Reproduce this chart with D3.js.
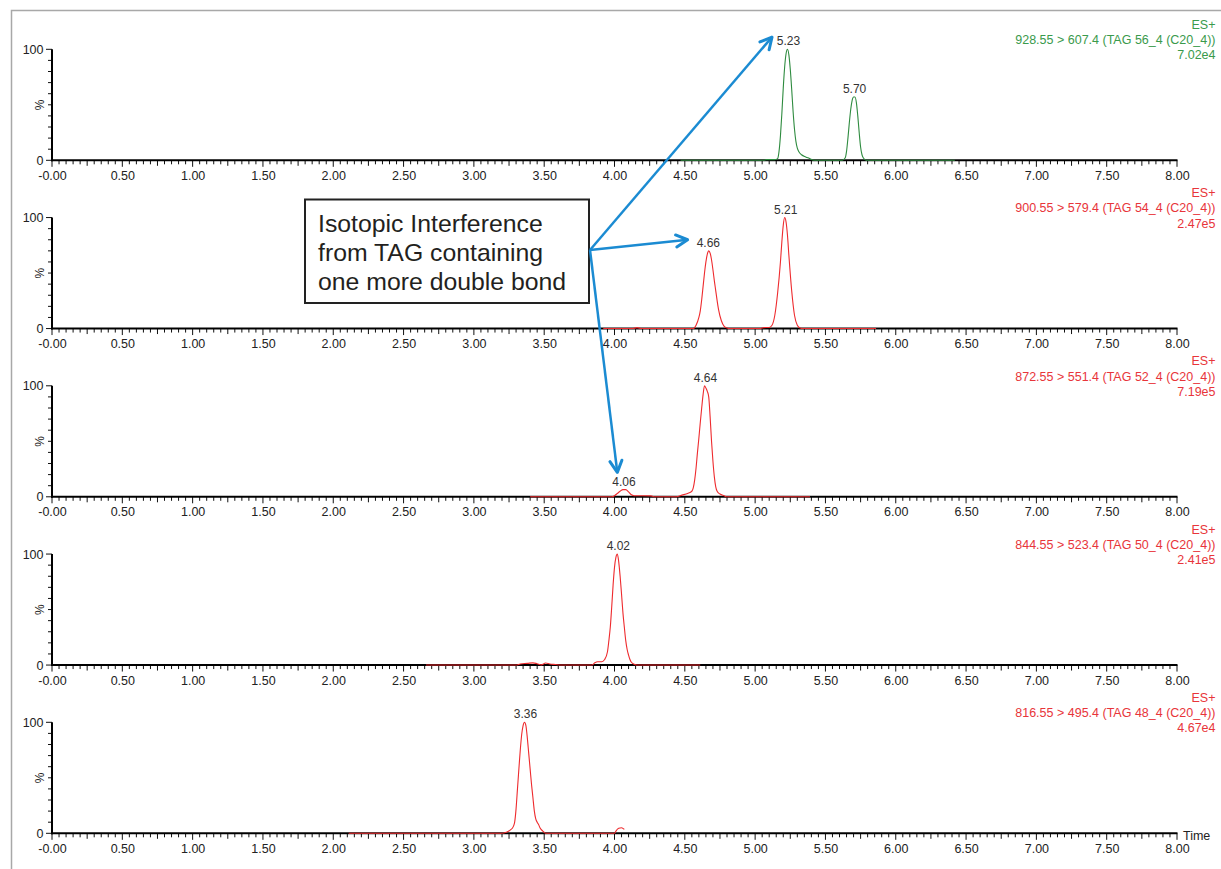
<!DOCTYPE html>
<html>
<head>
<meta charset="utf-8">
<script src="https://cdn.jsdelivr.net/npm/d3@7"></script>
<style>
  html, body { margin: 0; padding: 0; background: #fff; }
  svg { display: block; font-family: "Liberation Sans", Arial, sans-serif; }
</style>
</head>
<body>
<svg id="chart" width="1221" height="869"></svg>
<script>
// ---------------- DATA ----------------
const xTickValues = [0, 0.5, 1, 1.5, 2, 2.5, 3, 3.5, 4, 4.5, 5, 5.5, 6, 6.5, 7, 7.5, 8];
const xTickLabels = ["-0.00","0.50","1.00","1.50","2.00","2.50","3.00","3.50","4.00","4.50","5.00","5.50","6.00","6.50","7.00","7.50","8.00"];
const yTickLabels = ["0", "100"];

const channelNames = [
  "928.55 > 607.4 (TAG 56_4 (C20_4))",
  "900.55 > 579.4 (TAG 54_4 (C20_4))",
  "872.55 > 551.4 (TAG 52_4 (C20_4))",
  "844.55 > 523.4 (TAG 50_4 (C20_4))",
  "816.55 > 495.4 (TAG 48_4 (C20_4))"
];
const channelIntensity = ["7.02e4", "2.47e5", "7.19e5", "2.41e5", "4.67e4"];
const channelMode = ["ES+", "ES+", "ES+", "ES+", "ES+"];

// chromatogram traces: [time (min), relative intensity (%)]
const traceTAG56 = [[4.47,0],[5.06,0],[5.08,0.6],[5.14,0.6],[5.16,1.5],[5.17,8],[5.18,22],[5.19,42],[5.20,65],[5.21,84],[5.22,96],[5.23,100],[5.24,95],[5.25,82],[5.26,64],[5.27,44],[5.28,28],[5.29,17],[5.30,11],[5.31,8],[5.33,5],[5.36,3],[5.39,1.5],[5.41,0.3],[5.43,0],[5.62,0],[5.64,2],[5.65,8],[5.66,20],[5.67,34],[5.68,46],[5.69,54],[5.70,57],[5.71,57],[5.72,52],[5.73,40],[5.74,25],[5.75,12],[5.76,5],[5.77,2],[5.79,0],[6.42,0]];
const traceTAG54 = [[3.92,0],[4.13,0],[4.16,0.8],[4.19,0],[4.56,0],[4.58,3],[4.60,10],[4.61,16],[4.62,26],[4.63,38],[4.64,50],[4.65,60],[4.66,67],[4.67,70],[4.68,68],[4.69,62],[4.70,53],[4.71,43],[4.72,34],[4.73,25],[4.74,17],[4.76,7],[4.78,2],[4.80,0.5],[4.82,0],[5.04,0],[5.06,0.8],[5.10,1],[5.12,3],[5.14,12],[5.16,32],[5.18,60],[5.19,78],[5.20,93],[5.21,100],[5.22,96],[5.23,84],[5.24,66],[5.26,34],[5.28,12],[5.30,3],[5.32,0.5],[5.34,0],[5.86,0]];
const traceTAG52 = [[3.40,0],[3.98,0],[4.00,1],[4.02,3],[4.04,5],[4.06,6.5],[4.08,6.5],[4.10,4.5],[4.12,1.8],[4.14,1],[4.20,1],[4.26,0.8],[4.28,0],[4.44,0],[4.48,1.5],[4.52,3],[4.55,5],[4.56,8],[4.57,15],[4.58,26],[4.59,40],[4.60,53],[4.61,67],[4.62,80],[4.63,92],[4.64,100],[4.65,98],[4.66,95],[4.67,90],[4.68,72],[4.69,50],[4.70,32],[4.71,18],[4.72,9],[4.73,5],[4.75,2.5],[4.78,1],[4.80,0],[5.39,0]];
const traceTAG50 = [[2.66,0],[3.30,0],[3.33,1],[3.38,1.5],[3.42,2],[3.45,1.2],[3.48,0.2],[3.51,1.8],[3.54,1],[3.58,0.5],[3.62,0],[3.84,0],[3.86,2],[3.88,3],[3.91,3],[3.93,5],[3.95,12],[3.96,22],[3.97,34],[3.98,52],[3.99,72],[4.00,88],[4.01,97],[4.02,100],[4.03,93],[4.04,80],[4.05,64],[4.06,47],[4.07,34],[4.08,22],[4.09,14],[4.10,9],[4.11,5],[4.12,2.5],[4.14,0.8],[4.16,0],[4.61,0]];
const traceTAG48 = [[2.11,0],[3.20,0],[3.23,1],[3.26,3],[3.28,6],[3.29,10],[3.30,22],[3.31,40],[3.32,58],[3.33,75],[3.34,89],[3.35,97],[3.36,100],[3.37,97],[3.38,86],[3.39,72],[3.40,58],[3.41,44],[3.42,32],[3.43,20],[3.44,13],[3.45,10],[3.46,8],[3.47,5],[3.49,2],[3.51,0],[4.00,0],[4.01,2],[4.03,4.5],[4.05,5],[4.07,3.5]];
const traces = [traceTAG56, traceTAG54, traceTAG52, traceTAG50, traceTAG48];

// labelled peaks: [retention time, height %]
const peaksTAG56 = [[5.23,100],[5.70,57]];
const peaksTAG54 = [[4.66,70],[5.21,100]];
const peaksTAG52 = [[4.06,6.5],[4.64,100]];
const peaksTAG50 = [[4.02,100]];
const peaksTAG48 = [[3.36,100]];
const peaks = [peaksTAG56, peaksTAG54, peaksTAG52, peaksTAG50, peaksTAG48];

const annotationLines = ["Isotopic Interference", "from TAG containing", "one more double bond"];
// arrow targets: [panel index, time, %] – where each arrow points
const arrowTargets = [[0, 5.12, 111], [1, 4.52, 80], [2, 4.02, 22]];

// ---------------- STYLE ----------------
const traceColors = ["#2e8b3f", "#ee2b2e", "#ee2b2e", "#ee2b2e", "#ee2b2e"];
const textColors  = ["#3a9a4c", "#e8353a", "#e8353a", "#e8353a", "#e8353a"];
const arrowColor = "#1b8bd2";

const W = 1221, H = 869;
const svg = d3.select("#chart");

// outer frame (top and left edges visible)
svg.append("path")
  .attr("d", `M11.5,${H} L11.5,10.5 L${W},10.5`)
  .attr("fill", "none").attr("stroke", "#a8a8a8").attr("stroke-width", 1.5);

const x = d3.scaleLinear().domain([0, 8]).range([52, 1177]);
const panelBase0 = 160.3, panelStep = 168.25, panelH = 111;

const line = d3.line().curve(d3.curveMonotoneX);

traces.forEach((tr, i) => {
  const base = panelBase0 + panelStep * i;
  const y = d3.scaleLinear().domain([0, 100]).range([base, base - panelH]);
  const g = svg.append("g");

  // x axis minor ticks
  const minor = d3.range(0, 8.0001, 0.05);
  g.selectAll(".xt").data(minor).enter().append("line")
    .attr("x1", d => x(d)).attr("x2", d => x(d))
    .attr("y1", base)
    .attr("y2", d => {
      const k = Math.round(d * 20);
      if (k % 10 === 0) return base + 6.5;
      if (k % 5 === 0) return base + 5.5;
      return base + 4;
    })
    .attr("stroke", "#111").attr("stroke-width", 1);

  // y axis ticks
  g.selectAll(".yt").data(d3.range(0, 100.001, 10)).enter().append("line")
    .attr("x1", x(0)).attr("x2", d => (d === 0 || d === 100) ? x(0) - 6 : x(0) - 4)
    .attr("y1", d => y(d)).attr("y2", d => y(d))
    .attr("stroke", "#111").attr("stroke-width", 1);

  // axis lines
  g.append("line").attr("x1", x(0) - 1).attr("x2", x(8) + 0.5)
    .attr("y1", base).attr("y2", base).attr("stroke", "#000").attr("stroke-width", 2);
  g.append("line").attr("x1", x(0)).attr("x2", x(0))
    .attr("y1", y(100)).attr("y2", base + 1).attr("stroke", "#000").attr("stroke-width", 2);

  // x tick labels
  g.selectAll(".xl").data(xTickValues).enter().append("text")
    .attr("x", (d) => x(d) + 0.5).attr("y", base + 19.5)
    .attr("text-anchor", "middle").attr("font-size", 12.5).attr("fill", "#222")
    .text((d, j) => xTickLabels[j]);

  // y tick labels
  g.selectAll(".yl").data([0, 100]).enter().append("text")
    .attr("x", x(0) - 8.5).attr("y", d => y(d) + 4.5)
    .attr("text-anchor", "end").attr("font-size", 12.5).attr("fill", "#222")
    .text((d, j) => yTickLabels[j]);
  g.append("text")
    .attr("transform", `translate(${x(0) - 8},${y(50)}) rotate(-90)`)
    .attr("text-anchor", "middle").attr("font-size", 12).attr("fill", "#222")
    .text("%");

  // trace
  g.append("path")
    .attr("d", line(tr.map(p => [x(p[0]), y(p[1])])))
    .attr("fill", "none").attr("stroke", traceColors[i]).attr("stroke-width", 1.1);

  // peak labels
  g.selectAll(".pk").data(peaks[i]).enter().append("text")
    .attr("x", d => x(d[0]) + 1).attr("y", d => y(d[1]) - 4)
    .attr("text-anchor", "middle").attr("font-size", 12).attr("fill", "#333")
    .text(d => d[0].toFixed(2));

  // channel description
  const lbl = g.append("text").attr("text-anchor", "end").attr("font-size", 12.5).attr("fill", textColors[i]);
  [channelMode[i], channelNames[i], channelIntensity[i]].forEach((t, k) => {
    lbl.append("tspan").attr("x", 1215.5).attr("y", base - 131.5 + 15.3 * k).text(t);
  });

  if (i === 4) {
    g.append("text").attr("x", 1183).attr("y", base + 6.5)
      .attr("font-size", 12.5).attr("fill", "#222").text("Time");
  }
});

// annotation box
const box = svg.append("g");
box.append("rect").attr("x", 305).attr("y", 199.5).attr("width", 284).attr("height", 103.5)
  .attr("fill", "#fff").attr("stroke", "#222").attr("stroke-width", 2);
annotationLines.forEach((t, k) => {
  box.append("text").attr("x", 318).attr("y", 232 + 29.2 * k)
    .attr("font-size", 24.8).attr("fill", "#231f20").text(t);
});

// arrows
const origin = [590, 250];
arrowTargets.forEach(([pi, t, v]) => {
  const base = panelBase0 + panelStep * pi;
  const y = d3.scaleLinear().domain([0, 100]).range([base, base - panelH]);
  const tx = x(t), ty = y(v);
  svg.append("line").attr("x1", origin[0]).attr("y1", origin[1])
    .attr("x2", tx).attr("y2", ty)
    .attr("stroke", arrowColor).attr("stroke-width", 2.5);
  const ang = Math.atan2(ty - origin[1], tx - origin[0]);
  const L = 13, a = Math.PI / 6.5;
  const p1 = [tx - L * Math.cos(ang - a), ty - L * Math.sin(ang - a)];
  const p2 = [tx - L * Math.cos(ang + a), ty - L * Math.sin(ang + a)];
  svg.append("path")
    .attr("d", `M${p1[0]},${p1[1]} L${tx},${ty} L${p2[0]},${p2[1]}`)
    .attr("fill", "none").attr("stroke", arrowColor).attr("stroke-width", 3)
    .attr("stroke-linecap", "round").attr("stroke-linejoin", "round");
});
</script>
</body>
</html>
